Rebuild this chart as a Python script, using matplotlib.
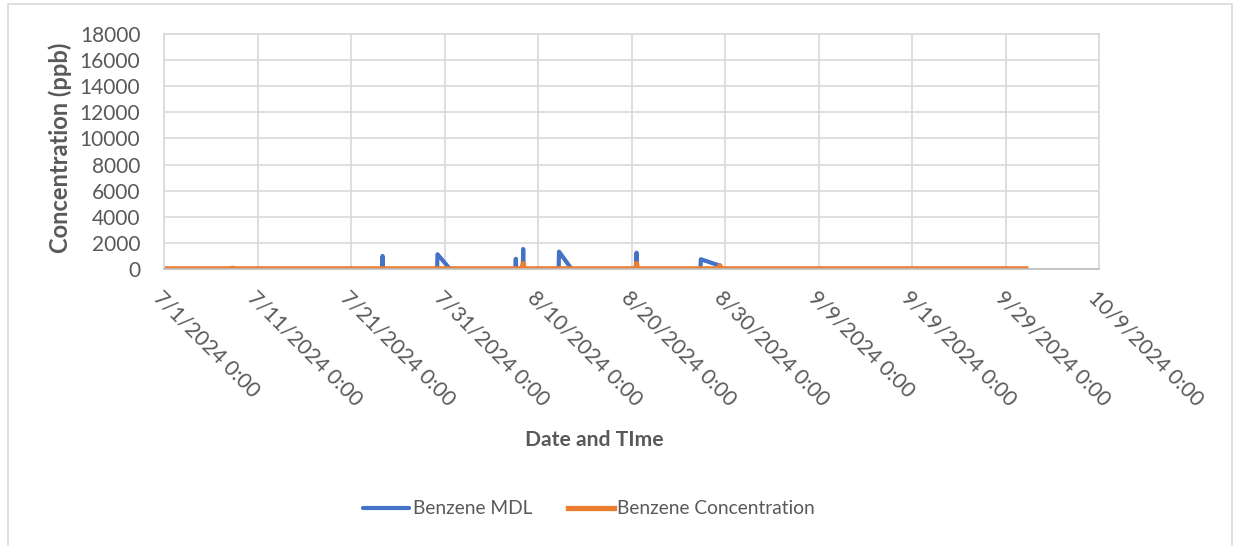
import matplotlib
matplotlib.use("Agg")
import matplotlib.pyplot as plt
from matplotlib.patches import Rectangle
from datetime import datetime

# Benzene MDL (ppb) - timestamps and values
mdl_times = ["2024-07-01 00:00", "2024-07-24 08:00", "2024-07-24 09:00", "2024-07-24 10:00",
             "2024-07-30 05:00", "2024-07-30 06:00", "2024-07-31 14:00",
             "2024-08-07 14:00", "2024-08-07 15:00", "2024-08-07 16:00",
             "2024-08-08 09:00", "2024-08-08 10:00", "2024-08-08 11:00",
             "2024-08-12 05:00", "2024-08-12 06:00", "2024-08-13 14:00",
             "2024-08-20 12:00", "2024-08-20 13:00", "2024-08-20 14:00",
             "2024-08-27 09:00", "2024-08-27 10:00", "2024-08-29 11:00", "2024-08-29 12:00",
             "2024-10-01 04:00"]
mdl_values = [5, 5, 1000, 5,
              5, 1130, 5,
              5, 780, 5,
              5, 1530, 5,
              5, 1330, 5,
              5, 1250, 5,
              5, 750, 250, 5,
              5]

# Benzene Concentration (ppb)
conc_times = ["2024-07-01 00:00", "2024-07-08 07:00", "2024-07-08 08:00", "2024-07-08 09:00",
              "2024-08-08 09:00", "2024-08-08 10:00", "2024-08-08 12:00",
              "2024-08-20 12:00", "2024-08-20 13:00", "2024-08-20 14:00",
              "2024-08-29 10:00", "2024-08-29 11:00", "2024-08-29 12:00",
              "2024-10-01 04:00"]
conc_values = [10, 10, 60, 10,
               10, 400, 10,
               10, 420, 10,
               10, 250, 10,
               10]

tick_dates = ["2024-07-01", "2024-07-11", "2024-07-21", "2024-07-31", "2024-08-10",
              "2024-08-20", "2024-08-30", "2024-09-09", "2024-09-19", "2024-09-29",
              "2024-10-09"]
tick_labels = ["7/1/2024 0:00", "7/11/2024 0:00", "7/21/2024 0:00", "7/31/2024 0:00",
               "8/10/2024 0:00", "8/20/2024 0:00", "8/30/2024 0:00", "9/9/2024 0:00",
               "9/19/2024 0:00", "9/29/2024 0:00", "10/9/2024 0:00"]
y_ticks = list(range(0, 18001, 2000))

plt.rcParams['font.family'] = ['Lato', 'DejaVu Sans']
txt = '#595959'
grid = '#D9D9D9'


def to_dt(items, fmt="%Y-%m-%d %H:%M"):
    return [datetime.strptime(s, fmt) for s in items]


fig = plt.figure(figsize=(12.34, 5.46), dpi=100)
ax = fig.add_axes([164/1234, 1 - 269/546, (1099-164)/1234, (269-34)/546])

ax.plot(to_dt(mdl_times), mdl_values, color='#4472C4', lw=3.0,
        solid_joinstyle='round', solid_capstyle='round', label='Benzene MDL')
ax.plot(to_dt(conc_times), conc_values, color='#ED7D31', lw=3.8,
        solid_joinstyle='round', label='Benzene Concentration')

xt = to_dt(tick_dates, "%Y-%m-%d")
ax.set_xlim(xt[0], xt[-1])
ax.set_ylim(0, 18000)
ax.set_xticks(xt)
ax.set_xticklabels(tick_labels, rotation=-45, ha='left', va='top',
                   rotation_mode='anchor', color=txt, fontsize=15.3)
ax.set_yticks(y_ticks)
ax.set_yticklabels([str(v) for v in y_ticks], color=txt, fontsize=15)
ax.tick_params(axis='x', length=0, pad=13)
ax.tick_params(axis='y', length=0, pad=17)

ax.grid(True, color=grid, lw=1.2)
ax.set_axisbelow(True)
for side in ['top', 'right', 'left']:
    ax.spines[side].set_color(grid)
    ax.spines[side].set_linewidth(1.2)
ax.spines['bottom'].set_color('#BFBFBF')
ax.spines['bottom'].set_linewidth(1.2)

fig.text(60/1234, 1 - 148/546, 'Concentration (ppb)', rotation=90, ha='center',
         va='center', fontsize=17, fontweight='bold', color=txt)
fig.text(594/1234, 1 - 440/546, 'Date and TIme', ha='center', va='center',
         fontsize=15.2, fontweight='bold', color=txt)

fig.legend(loc='center', bbox_to_anchor=(589/1234, 1 - 509/546), ncol=2,
           frameon=False, fontsize=13.8, labelcolor=txt, handlelength=2.4,
           handletextpad=0.2, columnspacing=1.85)

fig.patches.append(Rectangle((8/1234, -0.01), (1232-8)/1234, 1 - 4/546 + 0.01,
                             transform=fig.transFigure, fill=False,
                             edgecolor='#D9D9D9', lw=1.2))

fig.savefig('out.png', dpi=100)
